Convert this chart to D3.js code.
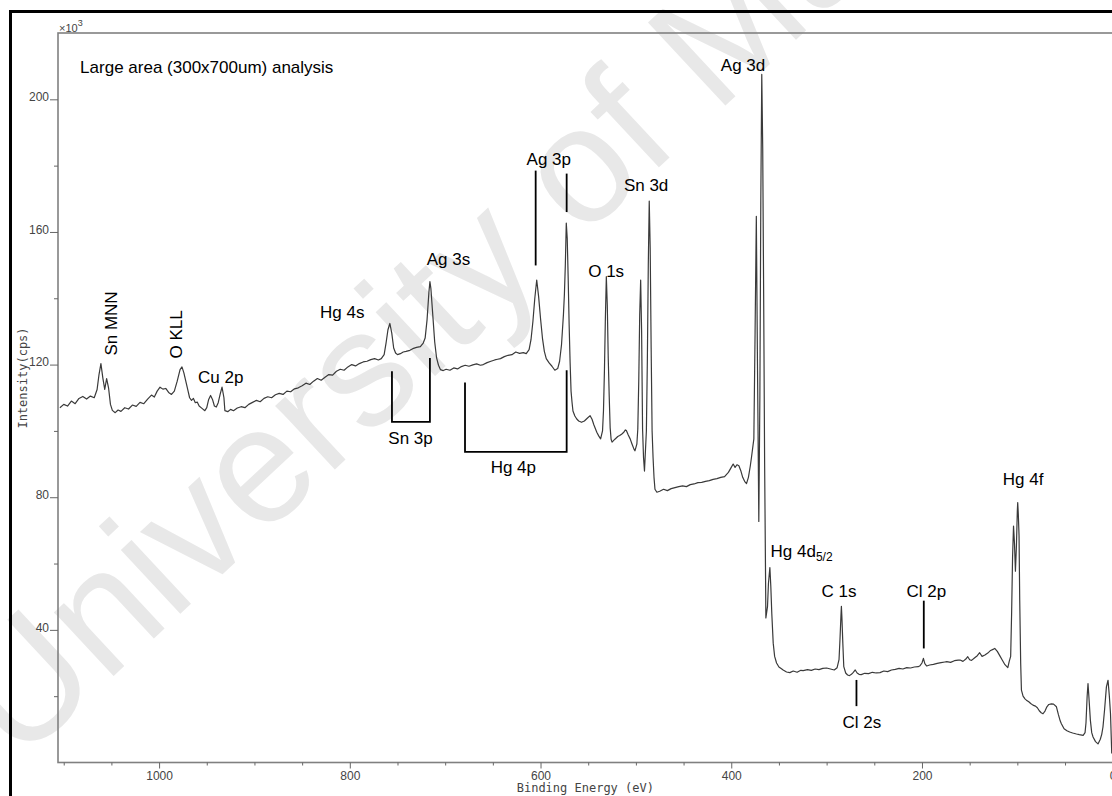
<!DOCTYPE html>
<html>
<head>
<meta charset="utf-8">
<script src="https://cdn.jsdelivr.net/npm/d3@7"></script>
<style>
  body { margin: 0; background: #fff; }
  svg { display: block; }
</style>
</head>
<body>
<div id="chart"></div>
<script>
// XPS survey spectrum (binding energy in eV, intensity in 10^3 cps)
const energyEV = [
  1104, 1100, 1096, 1092, 1088, 1084, 1080, 1076, 1072, 1068, 1065, 1063, 1061, 1059, 1057, 1055, 1053, 1051, 1049, 1046,
  1043, 1040, 1036, 1032, 1028, 1024, 1020, 1016, 1012, 1008, 1005, 1002, 999, 996, 993, 990, 987, 984, 981, 978,
  976, 974, 972, 970, 968, 966, 964, 962, 960, 958, 955, 952, 950, 948, 946, 944, 942, 940, 938, 936,
  934, 932, 931, 928, 925, 922, 918, 914, 910, 906, 902, 898, 894, 890, 886, 882, 878, 874, 870, 866,
  862, 858, 854, 850, 846, 842, 838, 834, 830, 826, 822, 818, 814, 810, 806, 802, 798, 794, 790, 786,
  782, 778, 774, 770, 767, 764, 762, 760, 758, 756, 754, 752, 750, 747, 744, 741, 737, 734, 730, 726,
  723, 721, 719, 717, 716, 715, 713, 711, 709, 707, 705, 702, 699, 695, 691, 687, 683, 679, 675, 671,
  667, 663, 660, 656, 652, 648, 645, 642, 638, 634, 630, 626, 622, 618, 615, 612, 610, 608, 606, 604,
  602, 600, 598, 596, 594, 591, 588, 585, 582, 580, 578, 576, 575, 574, 573, 572, 571, 570, 569, 568,
  567, 566, 564, 562, 560, 557, 554, 551, 548, 546, 544, 541, 539, 537, 535, 534, 533, 532, 531, 530,
  529, 528, 527, 526, 525, 522, 519, 517, 515, 513, 511, 510, 508, 506, 504, 502, 501, 499, 498, 497,
  496, 495, 494, 493, 492, 491, 489, 488, 487, 486, 485, 484, 483, 482, 481, 480, 478, 475, 471, 467,
  463, 459, 455, 451, 447, 443, 439, 435, 431, 427, 423, 419, 415, 411, 407, 403, 400, 398, 396, 394,
  392, 390, 388, 386, 384, 382, 380, 378.7, 376.3, 375, 373.7, 372.5, 371.1, 370, 369, 368, 367, 366, 365, 364,
  363.7, 362, 361, 359.5, 358.5, 357.5, 356, 354.5, 352.5, 350, 347, 345.6, 342, 338.6, 335, 331, 327, 324.6, 320, 316,
  312, 308, 304, 300, 296, 292, 289, 287, 286, 285, 284.5, 284, 283, 282, 280, 278, 276, 274, 272, 270,
  268, 266, 263.7, 260, 256, 252, 248, 244, 240, 236, 232, 228, 224, 220, 216, 212, 208, 204, 202, 200,
  198.5, 197, 195, 192, 188, 184, 180, 176, 174, 170, 166, 162, 160, 157, 154, 152, 150, 148, 145, 142,
  139.5, 137, 134, 131, 128, 125, 123.7, 121, 118, 116, 113, 110, 108.5, 107, 106, 105, 104, 103, 102, 101,
  100, 99.6, 99, 98.2, 97.5, 96.5, 95.7, 94, 92, 90.5, 88, 86, 83.6, 81, 79, 77, 75, 73.1, 71, 69,
  67, 64.3, 62, 59, 57, 55, 53.8, 51, 48, 45.1, 42, 38, 35, 31, 29, 28, 27.6, 26.8, 25.9, 25,
  23.4, 22, 20.6, 18, 15.4, 13, 11.5, 10.2, 8.5, 6.6, 4.9, 3.5, 2.3, 1.0
];
const countsK = [
  107.0, 108.0, 107.5, 109.0, 108.2, 109.8, 110.4, 109.6, 110.5, 110.0, 112.5, 117.0, 120.3, 116.0, 112.5, 115.8, 113.0, 108.0, 106.2, 105.5,
  106.3, 105.9, 107.0, 106.6, 107.8, 107.4, 108.6, 108.2, 109.6, 110.8, 110.2, 112.0, 113.2, 112.6, 112.8, 111.6, 111.0, 112.0, 115.0, 118.5,
  119.3, 117.5, 115.0, 112.5, 110.0, 109.2, 109.8, 108.5, 108.7, 107.5, 106.8, 106.1, 107.0, 109.5, 110.7, 109.5, 107.5, 107.2, 108.5, 111.0,
  113.2, 110.0, 106.1, 105.8, 106.5, 106.1, 106.9, 107.3, 107.0, 108.0, 108.6, 109.2, 108.8, 109.8, 110.3, 110.0, 110.9, 111.3, 111.0, 112.0,
  111.8, 112.7, 113.0, 113.6, 114.4, 114.0, 115.0, 115.8, 115.3, 116.2, 117.0, 116.8, 118.0, 118.6, 118.3, 119.3, 120.0, 119.6, 120.3, 120.8,
  121.0, 121.5, 121.8, 121.4, 121.8, 123.0, 126.5, 130.5, 132.4, 129.5, 125.0, 123.5, 123.0, 123.3, 123.8, 124.0, 124.3, 124.8, 125.2, 125.4,
  126.5, 128.0, 133.5, 142.0, 145.0, 143.0, 135.0, 126.9, 122.0, 119.8, 118.5, 118.2, 118.6, 118.3, 119.0, 118.7, 119.4, 119.8, 119.5, 119.9,
  120.2, 119.8, 120.0, 120.6, 121.0, 121.4, 121.6, 121.8, 122.4, 122.8, 123.0, 123.8, 123.4, 123.6, 123.3, 124.5, 127.5, 133.0, 140.0, 145.5,
  140.5, 133.9, 128.0, 124.0, 121.8, 120.5, 119.5, 118.3, 118.8, 121.0, 126.0, 135.0, 141.0, 150.0, 162.7, 158.0, 146.0, 132.0, 120.8, 112.0,
  108.7, 106.0, 104.5, 103.6, 103.0, 102.6, 103.0, 103.8, 104.6, 103.5, 101.8, 99.6, 98.5, 97.6, 100.0, 106.0, 118.0, 134.0, 146.5, 138.0,
  122.0, 110.7, 101.0, 97.5, 96.6, 97.5, 98.3, 98.6, 99.0, 99.5, 100.3, 100.1, 98.8, 97.6, 96.0, 94.5, 94.0, 96.0, 100.6, 115.0,
  135.0, 145.5, 130.0, 100.6, 92.0, 87.9, 100.0, 120.8, 150.0, 169.3, 155.0, 125.0, 100.0, 92.0, 86.0, 82.4, 81.5, 81.8, 82.4, 82.0,
  82.6, 82.9, 83.2, 83.4, 83.2, 83.8, 84.0, 84.4, 84.5, 84.8, 85.0, 85.4, 85.6, 86.0, 86.2, 87.5, 89.0, 90.0, 89.0, 89.8,
  89.5, 88.0, 86.0, 84.8, 84.1, 86.0, 89.5, 92.2, 97.6, 130.0, 164.7, 120.0, 72.7, 110.0, 170.0, 207.5, 185.0, 140.0, 90.0, 55.0,
  43.6, 47.0, 54.0, 58.8, 53.0, 45.0, 36.0, 32.0, 30.0, 28.8, 28.2, 27.9, 27.3, 27.1, 27.6, 27.2, 27.8, 27.7, 28.0, 27.8,
  28.2, 28.0, 28.4, 28.5, 28.2, 27.9, 28.6, 31.0, 37.0, 44.0, 47.1, 44.0, 36.0, 28.9, 27.0, 26.4, 26.2, 26.6, 27.2, 27.9,
  27.0, 26.6, 26.5, 26.9, 26.8, 27.2, 27.0, 27.1, 27.6, 27.4, 27.9, 28.1, 28.4, 28.2, 28.6, 28.5, 28.8, 28.9, 29.2, 30.0,
  31.4, 29.8, 29.1, 29.4, 29.6, 29.9, 30.1, 30.3, 30.4, 30.2, 30.7, 30.9, 30.9, 30.5, 31.2, 31.9, 31.0, 30.8, 31.5, 32.2,
  33.1, 32.0, 32.4, 33.0, 33.8, 34.2, 34.4, 33.5, 32.0, 31.0, 29.5, 28.6, 30.5, 32.0, 45.0, 62.0, 71.3, 66.0, 57.7, 65.0,
  76.0, 78.4, 75.0, 68.4, 49.0, 30.0, 21.8, 20.0, 19.2, 18.8, 18.3, 17.8, 17.3, 17.0, 16.5, 15.6, 15.0, 14.7, 15.5, 16.8,
  17.5, 17.7, 17.6, 16.8, 14.5, 12.5, 11.7, 10.2, 9.6, 9.2, 8.9, 8.6, 8.4, 8.2, 9.0, 12.0, 14.7, 20.0, 23.8, 20.0,
  12.7, 9.0, 7.7, 6.3, 5.6, 7.0, 8.5, 10.7, 16.0, 22.8, 24.8, 20.0, 14.7, 2.7
];

const xMajorTicks = [1000, 800, 600, 400, 200, 0];
const yMajorTicks = [40, 80, 120, 160, 200];
const yMinorTicks = [20, 60, 100, 140, 180];

// peak labels (horizontal), anchored at the start of the text
const peakLabels = ["Ag 3d", "Sn 3d", "Ag 3p", "O 1s", "Ag 3s", "Hg 4s", "Cu 2p", "Sn 3p", "Hg 4p", "C 1s", "Cl 2p", "Cl 2s", "Hg 4f"];
const peakLabelE = [410.9, 512.6, 614.6, 550.0, 719.4, 831.2, 959.1, 759.6, 652.3, 305.3, 216.3, 283.3, 115.3];
const peakLabelI = [208.4, 172.5, 180.1, 146.4, 149.9, 133.9, 114.3, 96.2, 87.2, 50.0, 49.8, 10.5, 83.6];

// Auger labels written upwards, centred on the point
const augerLabels = ["Sn MNN", "O KLL"];
const augerLabelE = [1044.0, 976.2];
const augerLabelI = [132.4, 129.1];

// marker lines and brackets, as [energy, intensity] points
const markerPaths = [
  [[755.8, 118.0], [755.8, 102.7], [716.0, 102.7], [716.0, 122.0]],   // Sn 3p
  [[679.2, 114.6], [679.2, 93.7], [572.6, 93.7], [572.6, 118.3]],     // Hg 4p
  [[605.1, 178.5], [605.1, 149.9]],                                   // Ag 3p 1/2
  [[572.6, 177.6], [572.6, 166.0]],                                   // Ag 3p 3/2
  [[198.1, 48.8], [198.1, 34.4]],                                     // Cl 2p
  [[268.7, 24.9], [268.7, 17.0]]                                      // Cl 2s
];

const width = 1112;
const height = 796;

const xScale = d3.scaleLinear()
                 .domain([1106, 0])
                 .range([58, 1112.7]);

const yScale = d3.scaleLinear()
                 .domain([0, 220])
                 .range([762.5, 33]);

const svg = d3.select('#chart')
              .append('svg')
              .attr('width', width)
              .attr('height', height);

// faint watermark behind everything
svg.append('text')
   .attr('transform', 'translate(18,765) rotate(-43)')
   .attr('font-family', 'Liberation Sans, Arial, sans-serif')
   .attr('font-size', 165)
   .attr('fill', '#e8e8e8')
   .text('University of Malaya');

// outer black border
svg.append('rect')
   .attr('x', 10.5)
   .attr('y', 11.5)
   .attr('width', 1200)
   .attr('height', 900)
   .attr('fill', 'none')
   .attr('stroke', '#000')
   .attr('stroke-width', 3);

// plot frame
svg.append('rect')
   .attr('x', xScale.range()[0])
   .attr('y', yScale.range()[1])
   .attr('width', 1200)
   .attr('height', yScale.range()[0] - yScale.range()[1])
   .attr('fill', 'none')
   .attr('stroke', '#808080')
   .attr('stroke-width', 1.6);

const xAxis = d3.axisBottom(xScale)
                .tickValues(xMajorTicks)
                .tickSize(6)
                .tickFormat(d3.format('d'));

const xMinor = d3.axisBottom(xScale)
                 .tickValues(d3.range(1100, -1, -50).filter(d => !xMajorTicks.includes(d)))
                 .tickSize(3)
                 .tickFormat('');

const yAxis = d3.axisLeft(yScale)
                .tickValues(yMajorTicks)
                .tickSize(8)
                .tickFormat(d3.format('d'));

const yMinor = d3.axisLeft(yScale)
                 .tickValues(yMinorTicks)
                 .tickSize(4)
                 .tickFormat('');

function styleAxis(g) {
  g.select('.domain').remove();
  g.selectAll('line').attr('stroke', '#666');
  g.selectAll('text')
   .attr('fill', '#444')
   .attr('font-family', 'Liberation Sans, Arial, sans-serif')
   .attr('font-size', 12);
}

svg.append('g')
   .attr('transform', `translate(0, ${yScale(0)})`)
   .call(xAxis)
   .call(styleAxis);

svg.append('g')
   .attr('transform', `translate(0, ${yScale(0)})`)
   .call(xMinor)
   .call(styleAxis);

svg.append('g')
   .attr('transform', `translate(${xScale.range()[0]}, 0)`)
   .call(yAxis)
   .call(styleAxis)
   .call(g => g.selectAll('text').attr('dy', '0.1em').attr('x', -9));

svg.append('g')
   .attr('transform', `translate(${xScale.range()[0]}, 0)`)
   .call(yMinor)
   .call(styleAxis);

// x10^3 multiplier
const mult = svg.append('text')
                .attr('x', xScale.range()[0] + 1)
                .attr('y', yScale.range()[1] - 1)
                .attr('font-family', 'Liberation Sans, Arial, sans-serif')
                .attr('font-size', 11)
                .attr('fill', '#444')
                .text('×10');
mult.append('tspan')
    .attr('font-size', 9)
    .attr('dy', -6)
    .text('3');

// axis titles
svg.append('text')
   .attr('x', (xScale.range()[0] + xScale.range()[1]) / 2)
   .attr('y', 792)
   .attr('text-anchor', 'middle')
   .attr('font-family', 'DejaVu Sans Mono, monospace')
   .attr('font-size', 12)
   .attr('fill', '#444')
   .text('Binding Energy (eV)');

svg.append('text')
   .attr('transform', 'translate(27, 378) rotate(-90)')
   .attr('text-anchor', 'middle')
   .attr('font-family', 'DejaVu Sans Mono, monospace')
   .attr('font-size', 12)
   .attr('fill', '#444')
   .text('Intensity(cps)');

// the spectrum
const spectrum = energyEV.map((e, i) => [e, countsK[i]]);

const line = d3.line()
               .x(d => xScale(d[0]))
               .y(d => yScale(d[1]));

svg.append('path')
   .datum(spectrum)
   .attr('d', line)
   .attr('fill', 'none')
   .attr('stroke', '#3a3a3a')
   .attr('stroke-width', 1.2)
   .attr('stroke-linejoin', 'round');

// marker lines
svg.selectAll('.marker')
   .data(markerPaths)
   .enter()
   .append('path')
   .attr('class', 'marker')
   .attr('d', d3.line().x(d => xScale(d[0])).y(d => yScale(d[1])))
   .attr('fill', 'none')
   .attr('stroke', '#000')
   .attr('stroke-width', 1.8);

const labelFont = 'Liberation Sans, Arial, sans-serif';

svg.selectAll('.peak-label')
   .data(peakLabels)
   .enter()
   .append('text')
   .attr('class', 'peak-label')
   .attr('x', (d, i) => xScale(peakLabelE[i]))
   .attr('y', (d, i) => yScale(peakLabelI[i]))
   .attr('font-family', labelFont)
   .attr('font-size', 17)
   .attr('fill', '#000')
   .text(d => d);

svg.selectAll('.auger-label')
   .data(augerLabels)
   .enter()
   .append('text')
   .attr('class', 'auger-label')
   .attr('transform', (d, i) => `translate(${xScale(augerLabelE[i])}, ${yScale(augerLabelI[i])}) rotate(-90)`)
   .attr('text-anchor', 'middle')
   .attr('font-family', labelFont)
   .attr('font-size', 17)
   .attr('fill', '#000')
   .text(d => d);

// Hg 4d5/2 with its subscript
const hg4d = svg.append('text')
                .attr('x', xScale(358.8))
                .attr('y', yScale(62.0))
                .attr('font-family', labelFont)
                .attr('font-size', 17)
                .attr('fill', '#000')
                .text('Hg 4d');
hg4d.append('tspan')
    .attr('font-size', 12)
    .attr('dy', 4)
    .text('5/2');

// sample description
svg.append('text')
   .attr('x', xScale(1082.8))
   .attr('y', yScale(207.8))
   .attr('font-family', labelFont)
   .attr('font-size', 17)
   .attr('fill', '#000')
   .text('Large area (300x700um) analysis');
</script>
</body>
</html>
